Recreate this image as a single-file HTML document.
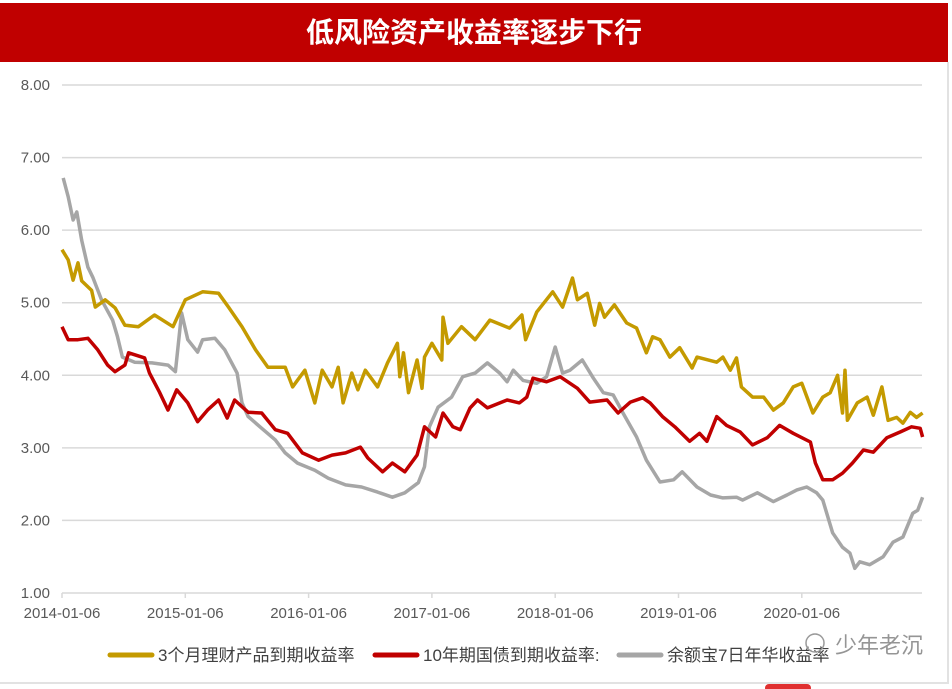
<!DOCTYPE html>
<html><head><meta charset="utf-8">
<style>
html,body{margin:0;padding:0;background:#fff;}
body{width:952px;height:689px;overflow:hidden;position:relative;font-family:"Liberation Sans","Noto Sans CJK SC",sans-serif;}
#title{position:absolute;left:0;top:3px;width:948px;height:59px;background:#c00000;color:#fff;font-size:28px;font-weight:bold;text-align:center;line-height:60px;font-family:"Liberation Sans","Noto Sans CJK SC",sans-serif;}
#frame{position:absolute;left:0;top:62px;width:947px;height:620px;border-right:2px solid #e2e2e2;border-bottom:2px solid #e2e2e2;}
svg{position:absolute;left:0;top:0;}
</style></head>
<body>
<div id="title">低风险资产收益率逐步下行</div>
<div id="frame"></div>
<svg id="chart" width="952" height="689"></svg>
<script>
const yTicks = [1,2,3,4,5,6,7,8];
const yTickLabels = ["1.00","2.00","3.00","4.00","5.00","6.00","7.00","8.00"];
const xTicks = [2014,2015,2016,2017,2018,2019,2020];
const xTickLabels = ["2014-01-06","2015-01-06","2016-01-06","2017-01-06","2018-01-06","2019-01-06","2020-01-06"];
const seriesNames = ["3个月理财产品到期收益率","10年期国债到期收益率:","余额宝7日年华收益率"];

const goldDates = [0,.05,.09,.13,.16,.24,.27,.35,.43,.51,.62,.75,.90,1.00,1.14,1.27,1.35,1.46,1.57,1.67,1.81,1.87,1.97,2.05,2.11,2.19,2.24,2.28,2.35,2.40,2.46,2.56,2.64,2.72,2.74,2.77,2.81,2.88,2.92,2.94,3.00,3.08,3.09,3.13,3.24,3.35,3.47,3.63,3.73,3.76,3.85,3.98,4.06,4.14,4.18,4.26,4.32,4.36,4.40,4.48,4.58,4.66,4.74,4.79,4.85,4.93,5.01,5.11,5.15,5.31,5.36,5.42,5.47,5.51,5.60,5.69,5.77,5.85,5.93,6.00,6.09,6.17,6.23,6.29,6.33,6.35,6.37,6.45,6.53,6.58,6.65,6.70,6.77,6.82,6.88,6.93,6.98];
const goldValues = [5.73,5.59,5.31,5.55,5.30,5.17,4.94,5.04,4.93,4.69,4.67,4.83,4.67,5.04,5.15,5.13,4.94,4.67,4.35,4.11,4.11,3.84,4.07,3.62,4.07,3.84,4.11,3.62,4.03,3.80,4.07,3.84,4.17,4.44,3.98,4.31,3.76,4.21,3.82,4.25,4.44,4.21,4.80,4.44,4.67,4.49,4.76,4.65,4.83,4.49,4.87,5.15,4.94,5.34,5.04,5.13,4.69,4.99,4.80,4.97,4.72,4.65,4.31,4.53,4.49,4.25,4.38,4.10,4.25,4.18,4.25,4.07,4.24,3.84,3.70,3.70,3.52,3.62,3.84,3.89,3.48,3.70,3.76,4.00,3.48,4.07,3.38,3.62,3.70,3.45,3.84,3.38,3.42,3.34,3.49,3.42,3.48];

const redDates = [0,.05,.13,.21,.29,.37,.43,.51,.54,.67,.71,.79,.86,.93,1.02,1.10,1.18,1.27,1.34,1.40,1.51,1.62,1.73,1.83,1.95,2.08,2.19,2.30,2.42,2.48,2.60,2.68,2.78,2.88,2.94,3.03,3.09,3.17,3.23,3.31,3.37,3.45,3.61,3.71,3.77,3.82,3.93,4.04,4.18,4.28,4.42,4.51,4.61,4.71,4.77,4.87,4.97,5.09,5.17,5.23,5.31,5.39,5.50,5.60,5.72,5.82,5.93,6.07,6.11,6.17,6.25,6.33,6.41,6.50,6.58,6.69,6.80,6.89,6.96,6.98];
const redValues = [4.67,4.49,4.49,4.51,4.35,4.14,4.05,4.14,4.31,4.24,4.03,3.77,3.52,3.80,3.62,3.36,3.52,3.66,3.41,3.66,3.49,3.48,3.25,3.20,2.93,2.83,2.90,2.93,3.01,2.86,2.67,2.79,2.67,2.90,3.29,3.15,3.48,3.29,3.25,3.55,3.66,3.55,3.66,3.62,3.70,3.96,3.91,3.98,3.82,3.63,3.66,3.48,3.63,3.69,3.62,3.43,3.29,3.09,3.20,3.09,3.43,3.31,3.22,3.04,3.14,3.31,3.20,3.08,2.79,2.56,2.56,2.65,2.79,2.97,2.94,3.14,3.22,3.29,3.27,3.15];

const grayDates = [.01,.05,.09,.12,.16,.21,.25,.32,.41,.45,.49,.59,.73,.86,.92,.97,1.02,1.10,1.14,1.24,1.32,1.42,1.46,1.51,1.62,1.73,1.81,1.91,2.05,2.16,2.30,2.43,2.56,2.68,2.78,2.89,2.94,2.98,3.05,3.16,3.25,3.35,3.45,3.55,3.61,3.66,3.74,3.85,3.93,4.00,4.06,4.12,4.22,4.31,4.39,4.47,4.55,4.66,4.74,4.85,4.96,5.03,5.15,5.26,5.36,5.47,5.52,5.64,5.77,5.88,5.96,6.04,6.12,6.17,6.25,6.33,6.39,6.43,6.47,6.55,6.66,6.74,6.82,6.90,6.94,6.98];
const grayValues = [6.72,6.46,6.14,6.25,5.86,5.49,5.35,5.04,4.76,4.53,4.25,4.18,4.17,4.14,4.05,4.86,4.49,4.32,4.49,4.51,4.35,4.03,3.62,3.43,3.27,3.11,2.93,2.79,2.69,2.58,2.49,2.46,2.39,2.32,2.38,2.52,2.74,3.29,3.56,3.70,3.98,4.03,4.17,4.03,3.91,4.07,3.93,3.89,3.98,4.39,4.03,4.07,4.21,3.96,3.76,3.73,3.48,3.15,2.83,2.53,2.56,2.67,2.46,2.35,2.31,2.32,2.28,2.38,2.26,2.35,2.42,2.46,2.38,2.28,1.83,1.63,1.55,1.34,1.43,1.39,1.50,1.70,1.77,2.10,2.14,2.32];

const NS = "http://www.w3.org/2000/svg";
const svg = document.getElementById('chart');
const X0 = 62, X1 = 922, Y8 = 85, PXY = 72.57, PXYR = 123.3;
function xScale(t){ return X0 + (t - 2014) * PXYR; }
function yScale(v){ return Y8 + (8 - v) * PXY; }
function mk(tag, attrs){ const e = document.createElementNS(NS, tag); for (const k in attrs) e.setAttribute(k, attrs[k]); svg.appendChild(e); return e; }

yTicks.forEach((v,i)=>{
  const g = mk('line',{x1:X0,x2:X1,y1:yScale(v),y2:yScale(v),stroke:'#d9d9d9','stroke-width':1.5});
  
  
  const t = mk('text',{x:50,y:yScale(v)+5,'text-anchor':'end','font-size':15,fill:'#595959','font-family':'Liberation Sans, sans-serif'});
  t.textContent = yTickLabels[i];
  
  
});
xTicks.forEach((yr,i)=>{
  const x = xScale(yr);
  const tk = mk('line',{x1:x,x2:x,y1:yScale(1),y2:yScale(1)+5,stroke:'#d9d9d9','stroke-width':1.5});
  
  
  const t = mk('text',{x:x,y:618,'text-anchor':'middle','font-size':15,fill:'#595959','font-family':'Liberation Sans, sans-serif'});
  t.textContent = xTickLabels[i];
  
  
});

function drawLine(dates, vals, color, name){
  const d = dates.map((t,i)=>(i?'L':'M')+xScale(2014+t).toFixed(1)+','+yScale(vals[i]).toFixed(1)).join(' ');
  const p = mk('path',{d:d,fill:'none',stroke:color,'stroke-width':3.5,'stroke-linejoin':'round'});
  
  
}
drawLine(grayDates, grayValues, '#a6a6a6', 'yuebao-yield-line');
drawLine(redDates, redValues, '#c00000', 'treasury-10y-line');
drawLine(goldDates, goldValues, '#c49a00', 'wealth-3m-line');

const legendColors = ['#c49a00','#c00000','#a6a6a6'];
const legendX = [110,375,619];
seriesNames.forEach((n,i)=>{
  const l = mk('line',{x1:legendX[i],x2:legendX[i]+42,y1:655,y2:655,stroke:legendColors[i],'stroke-width':5,'stroke-linecap':'round'});
  
  
  const t = mk('text',{x:legendX[i]+48,y:661,'font-size':17,fill:'#404040','font-family':'Liberation Sans, Noto Sans CJK SC, sans-serif'});
  t.textContent = n;
  
  
});
const wm = mk('text',{x:835,y:653,'font-size':22,fill:'#7a7a7a','fill-opacity':0.8,'font-family':'Liberation Sans, Noto Sans CJK SC, sans-serif'});
wm.textContent = '少年老沉';


const wi = mk('circle',{cx:815,cy:643,r:9,fill:'none',stroke:'#9a9a9a','stroke-width':1.5});


const rb = mk('rect',{x:765,y:684,width:46,height:8,rx:4,fill:'#e03030'});


</script>
</body></html>
